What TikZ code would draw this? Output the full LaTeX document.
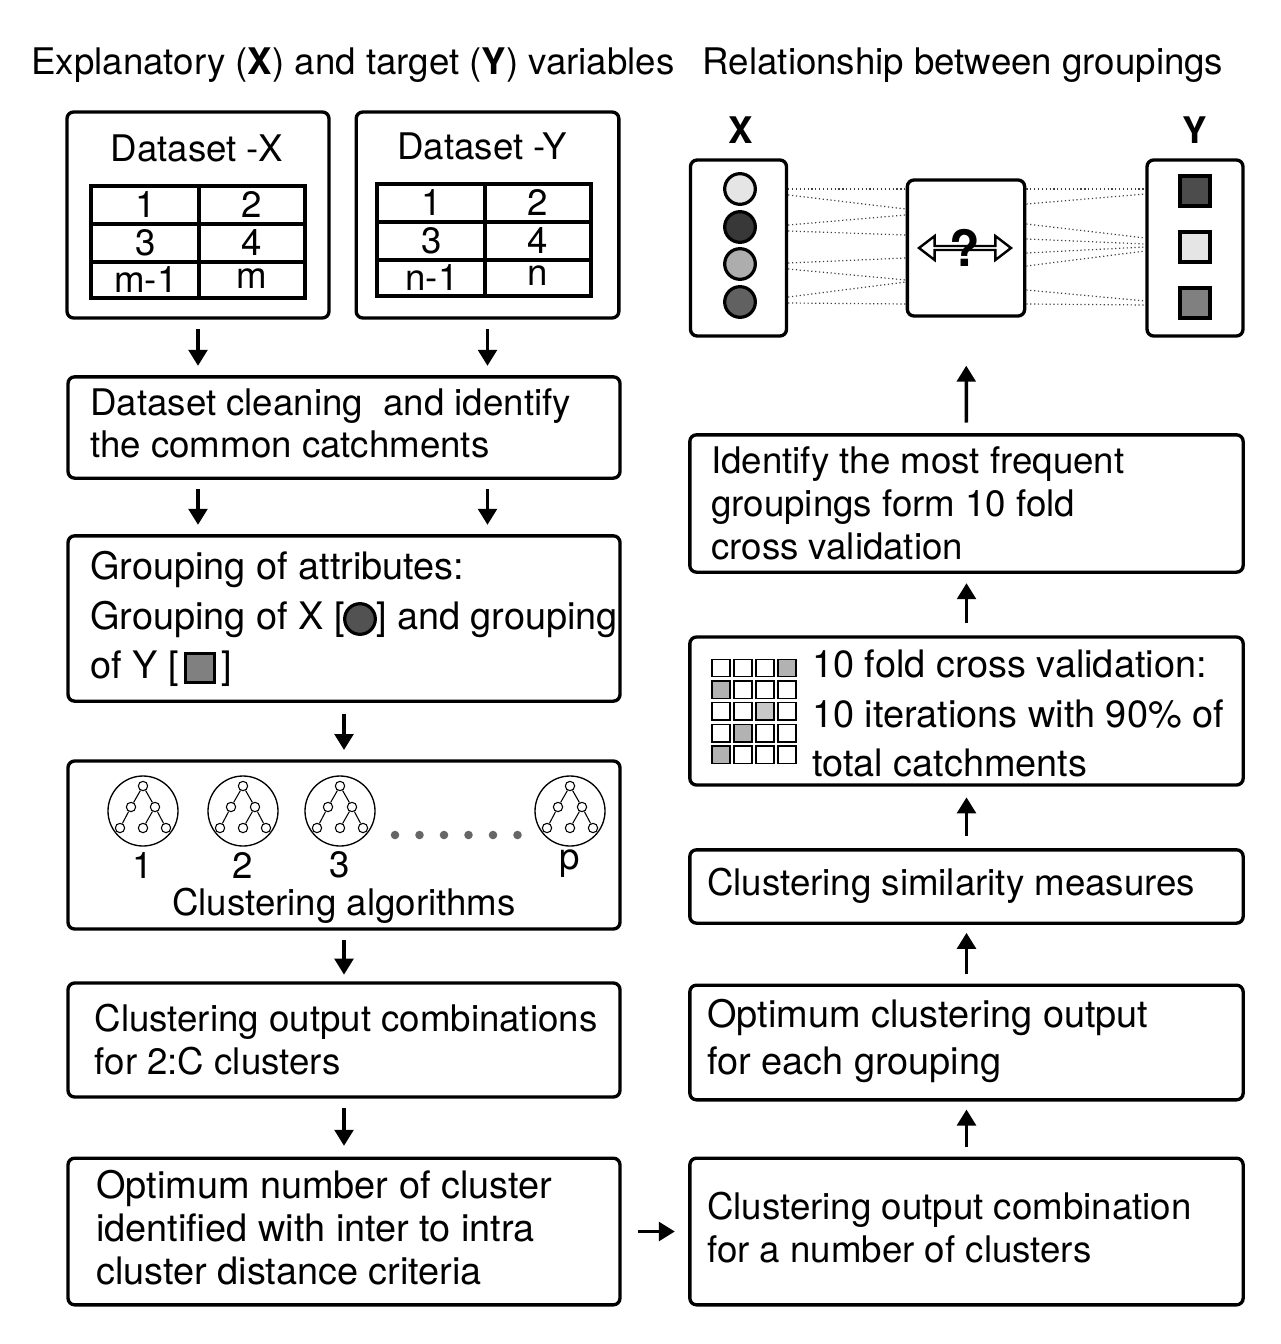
\documentclass[tikz,border=0pt]{standalone}
\usepackage{fontspec}
\setmainfont{TeX Gyre Heros}
\usetikzlibrary{arrows.meta, shapes.arrows}
\tikzset{
  procbox/.style={draw, line width=2.5pt, rounded corners=5pt, minimum width=#1, inner sep=0pt},
  bodytext/.style={anchor=west, align=left, inner sep=0pt},
  flow/.style={line width=2.6pt, -{Triangle[length=12pt, width=14pt]}},
  tableline/.style={line width=2.5pt},
  linkline/.style={dotted, line width=.9pt, black!75},
  xdot/.style={circle, draw, line width=2.4pt, minimum size=23pt, inner sep=0pt, fill=#1},
  ysquare/.style={rectangle, draw, line width=2.8pt, minimum size=22pt, inner sep=0pt, fill=#1},
  treenode/.style={circle, draw, line width=.8pt, fill=white, minimum size=7pt, inner sep=0pt},
  foldcell/.style={rectangle, draw, line width=1.1pt, minimum width=13.5pt, minimum height=13pt, inner sep=0pt, fill=#1}
}
\newcommand{\bigsize}{\fontsize{27.5}{32.3}\selectfont}
\newcommand{\widersize}[1]{\fontsize{28.4}{#1}\selectfont}
\begin{document}
\begin{tikzpicture}[x=.75pt, y=-.75pt, font=\bigsize]
  \useasboundingbox (0,0) rectangle (1280,1344);
  \node[anchor=center, inner sep=0pt] (titleleft) at (353,65) {Explanatory (\textbf{X}) and target (\textbf{Y}) variables};
  \node[anchor=center, inner sep=0pt] (titleright) at (963,65) {Relationship between groupings};

  % left column
  \node[procbox=196.5pt, minimum height=154.5pt] (dataX) at (198,215) {};
  \node[procbox=197pt, minimum height=154.5pt] (dataY) at (487.5,215) {};
  \node[procbox=414pt, minimum height=76pt] (clean) at (344,427.5) {};
  \node[procbox=414pt, minimum height=124pt] (group) at (344,618.5) {};
  \node[procbox=414pt, minimum height=126pt] (algo) at (344,845) {};
  \node[procbox=414pt, minimum height=85.5pt] (comb) at (344,1040) {};
  \node[procbox=414pt, minimum height=110pt] (opt) at (344,1231.5) {};

  % right column
  \node[procbox=415pt, minimum height=110pt] (numc) at (966.5,1231.5) {};
  \node[procbox=415pt, minimum height=86pt] (optc) at (966.5,1042.5) {};
  \node[procbox=415pt, minimum height=55pt] (sim) at (966.5,886.5) {};
  \node[procbox=415pt, minimum height=111pt] (fold) at (966.5,711) {};
  \node[procbox=415pt, minimum height=103pt] (freq) at (966.5,503.5) {};
  \node[procbox=72pt, minimum height=132pt] (xbox) at (738.5,248) {};
  \node[procbox=88pt, minimum height=102pt] (mid) at (966,248) {};
  \node[procbox=72pt, minimum height=132pt] (ybox) at (1195,248) {};

  % tables
  \node (dataXtitle) at (197,148) {Dataset -X};
  \node (dataYtitle) at (482,146) {Dataset -Y};
  \foreach \tx/\ty/\tname/\tm/\tmy in {91/186/tabx/m/93, 377/184/taby/n/92}{
    \draw[tableline] (\tx,\ty) rectangle ++(214,112);
    \draw[tableline] (\tx+108,\ty) -- ++(0,112);
    \draw[tableline] (\tx,\ty+38) -- ++(214,0);
    \draw[tableline] (\tx,\ty+76) -- ++(214,0);
    \node[inner sep=0pt] (\tname a) at (\tx+55,\ty+19) {1};
    \node[inner sep=0pt] (\tname b) at (\tx+161,\ty+19) {2};
    \node[inner sep=0pt] (\tname c) at (\tx+55,\ty+57) {3};
    \node[inner sep=0pt] (\tname d) at (\tx+161,\ty+57) {4};
    \node[inner sep=0pt] (\tname e) at (\tx+55,\ty+94) {\tm-1};
    \node[inner sep=0pt] (\tname f) at (\tx+161,\ty+\tmy) {\tm};
  }

  % body text
  \node[bodytext, font=\fontsize{27.5}{31.5}\selectfont] (cleantext) at (90,423.5) {Dataset cleaning\ \ and identify\\the common catchments};
  \node[bodytext, font=\widersize{37.2}] (grouptext) at (90,619) {Grouping of attributes:\\Grouping of X [\hspace{23.5pt}] and grouping\\of Y [\hspace{32pt}]};
  \node[ysquare=black!50, line width=2.6pt] (groupsquare) at (200,668) {};
  \node[xdot=black!68] (groupdot) at (360,619) {};
  \node (algotext) at (344,906) {Clustering algorithms};
  \node[bodytext] (combtext) at (94.5,1040) {Clustering output combinations\\for 2:C clusters};
  \node[bodytext, font=\widersize{32.3}] (opttext) at (96,1228) {Optimum number of cluster\\identified with inter to intra\\cluster distance criteria};
  \node[bodytext] (numctext) at (707,1228) {Clustering output combination\\for a number of clusters};
  \node[bodytext, font=\widersize{35.25}] (optctext) at (707,1041) {Optimum clustering output\\for each grouping};
  \node[bodytext] (simtext) at (707,886) {Clustering similarity measures};
  \node[bodytext, font=\widersize{37.2}] (foldtext) at (812,713.5) {10 fold cross validation:\\10 iterations with 90\% of\\total catchments};
  \node[bodytext] (freqtext) at (711,503.5) {Identify the most frequent\\groupings form 10 fold\\cross validation};

  % clustering icons
  \foreach \cx/\clabel/\cy/\cname in {143/1/865/one, 243/2/865/two, 340/3/865/three, 570/p/864/last}{
    \begin{scope}[shift={(\cx,811)}]
      \node[circle, draw, line width=1pt, minimum size=52.5pt, inner sep=0pt] (ring\cname) at (0,0) {};
      \node[treenode] (t) at (0,-25) {};
      \node[treenode] (ml) at (-12,-4) {};
      \node[treenode] (mr) at (12,-4) {};
      \node[treenode] (bl) at (-23,17) {};
      \node[treenode] (bm) at (0,17) {};
      \node[treenode] (br) at (23,17) {};
      \draw[line width=.8pt] (t) -- (ml) (t) -- (mr) (ml) -- (bl) (mr) -- (bm) (mr) -- (br);
    \end{scope}
    \node[inner sep=0pt] (label\cname) at (\cx,\cy) {\clabel};
  }
  \foreach \dx in {395,419.5,444,468.5,493,517.5}{
    \fill[black!60] (\dx,835) circle[radius=3.2pt];
  }

  % fold grid
  \foreach \gx/\gy/\gfill in {0/0/white,1/0/white,2/0/white,3/0/black!30,
                              0/1/black!30,1/1/white,2/1/white,3/1/white,
                              0/2/white,1/2/white,2/2/black!22,3/2/white,
                              0/3/white,1/3/black!30,2/3/white,3/3/white,
                              0/4/black!30,1/4/white,2/4/white,3/4/white}{
    \node[foldcell=\gfill] (cell\gx\gy) at (721+\gx*22,668+\gy*21.7) {};
  }

  % groups and question mark
  \node (xlabel) at (741,130) {\textbf{X}};
  \node (ylabel) at (1195,130) {\textbf{Y}};
  \foreach \yy/\gfill/\yname in {189/black!10/a, 227/black!78/b, 264/black!32/c, 302/black!62/d}{
    \node[xdot=\gfill] (xdot\yname) at (740,\yy) {};
  }
  \foreach \yy/\gfill/\yname in {191/black!70/a, 247/black!10/b, 303/black!50/c}{
    \node[ysquare=\gfill] (ysq\yname) at (1195,\yy) {};
  }
  \foreach \ya/\yb in {189/189, 195/209, 225/215, 231/235, 263/258, 269/280, 297/282, 303/304}{
    \draw[linkline] (xbox.east |- 0,\ya) -- (mid.west |- 0,\yb);
  }
  \foreach \ya/\yb in {189/189, 204/194, 224/238, 239/244, 253/247, 266/251, 290/301, 304/305}{
    \draw[linkline] (mid.east |- 0,\ya) -- (ybox.west |- 0,\yb);
  }
  \node[double arrow, draw, line width=1.8pt, fill=white, minimum width=18pt, minimum height=69pt,
        double arrow head extend=4.5pt, inner sep=0pt, double arrow tip angle=75] (both) at (965,248) {};
  \node[font=\bfseries\fontsize{37.5}{40}\selectfont, inner sep=0pt] (quest) at (965,248) {?};

  % arrows
  \draw[flow, shorten <=7pt, shorten >=7pt] (dataX) -- (dataX |- clean.north);
  \draw[flow, shorten <=7pt, shorten >=7pt] (dataY) -- (dataY |- clean.north);
  \draw[flow, shorten <=7pt, shorten >=7pt] (clean.south -| dataX) -- (group.north -| dataX);
  \draw[flow, shorten <=7pt, shorten >=7pt] (clean.south -| dataY) -- (group.north -| dataY);
  \draw[flow, shorten <=8pt, shorten >=7pt] (group) -- (algo);
  \draw[flow, shorten <=7pt, shorten >=5pt] (algo) -- (comb);
  \draw[flow, shorten <=7pt, shorten >=8pt] (comb) -- (opt);
  \draw[flow, shorten <=12pt, shorten >=10pt] (opt) -- (numc);
  \draw[flow, shorten <=7pt, shorten >=6pt] (numc) -- (optc);
  \draw[flow, shorten <=7pt, shorten >=6pt] (optc) -- (sim);
  \draw[flow, shorten <=9pt, shorten >=8pt] (sim) -- (fold);
  \draw[flow, shorten <=9pt, shorten >=7pt] (fold) -- (freq);
  \draw[flow, shorten <=8pt, shorten >=36pt] (freq) -- (mid);
\end{tikzpicture}
\end{document}
